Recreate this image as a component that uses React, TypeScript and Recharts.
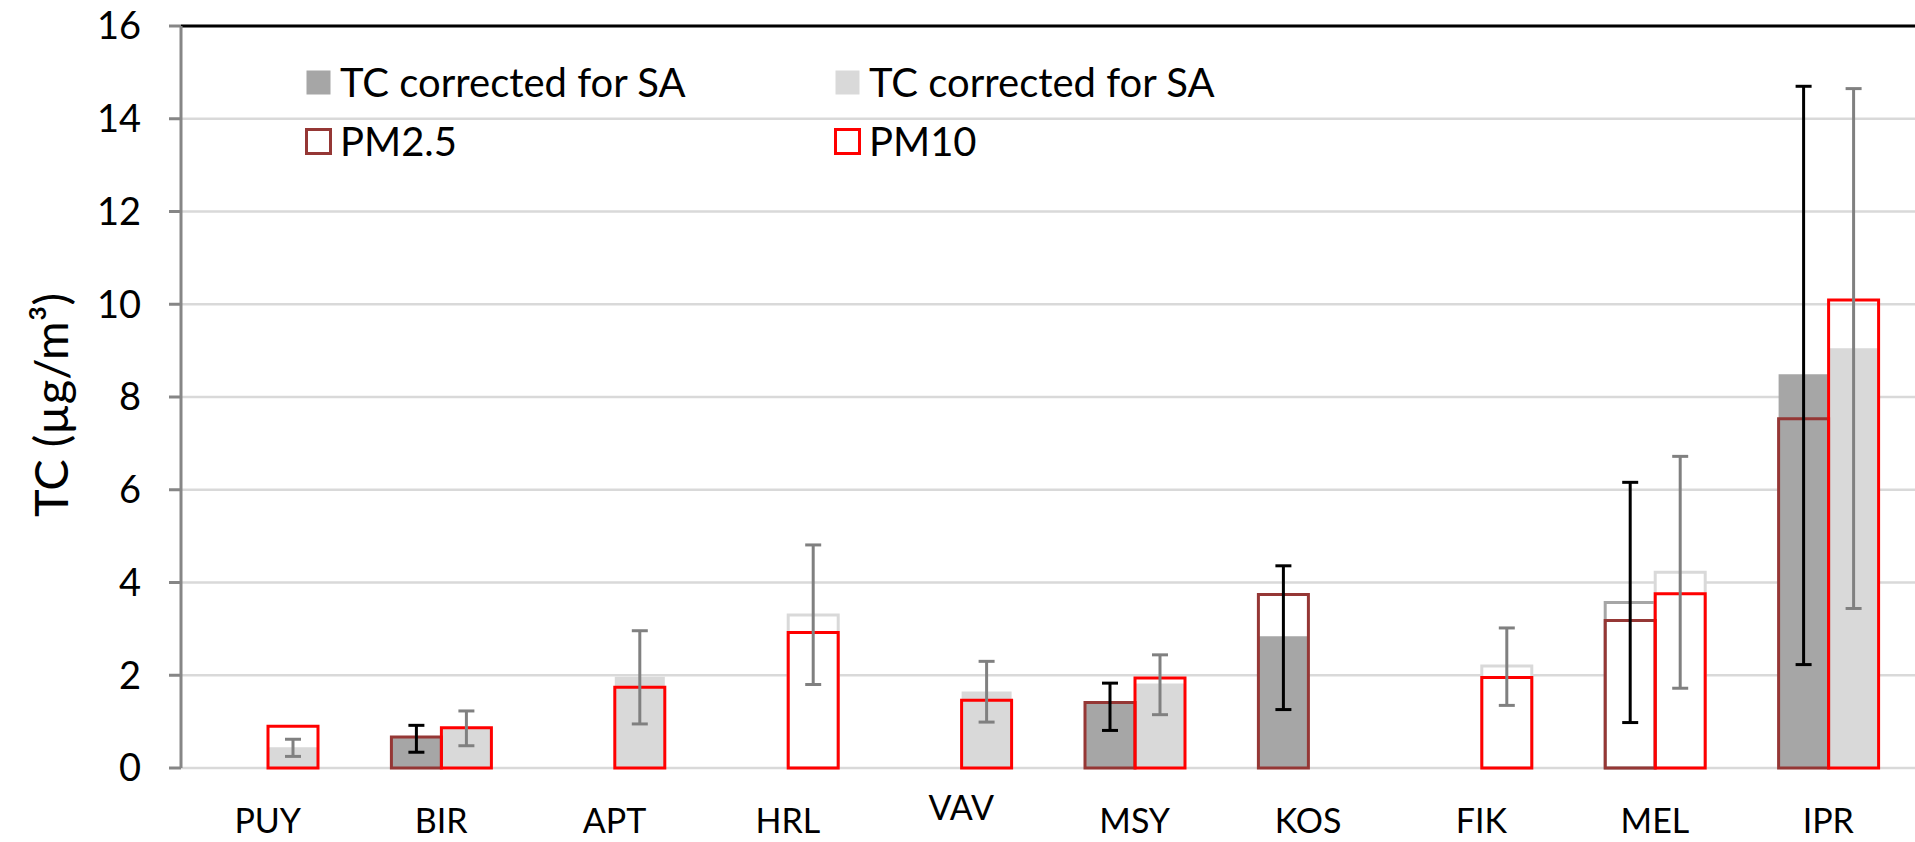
import React from "react";
import { BarChart, Bar, XAxis, YAxis, CartesianGrid, ErrorBar, ReferenceLine, Cell } from "recharts";

const sites = ["PUY", "BIR", "APT", "HRL", "VAV", "MSY", "KOS", "FIK", "MEL", "IPR"];
const tcPM25: (number | null)[] = [null, 0.65, null, null, null, 1.38, 2.84, null, 3.57, 8.49];
const tcPM10: (number | null)[] = [0.45, 0.85, 1.97, 3.3, 1.65, 1.82, null, 2.2, 4.22, 9.05];
const pm25: (number | null)[] = [null, 0.67, null, null, null, 1.41, 3.74, null, 3.18, 7.53];
const pm10: (number | null)[] = [0.9, 0.87, 1.74, 2.92, 1.46, 1.94, null, 1.95, 3.76, 10.09];
const err25Low: (number | null)[] = [null, 0.34, null, null, null, 0.81, 1.26, null, 0.98, 2.23];
const err25High: (number | null)[] = [null, 0.92, null, null, null, 1.83, 4.36, null, 6.16, 14.7];
const err10Low: (number | null)[] = [0.25, 0.48, 0.95, 1.8, 0.99, 1.15, null, 1.35, 1.72, 3.44];
const err10High: (number | null)[] = [0.62, 1.23, 2.96, 4.81, 2.3, 2.44, null, 3.02, 6.72, 14.65];
const hollowSites = ["HRL", "FIK", "MEL"];
const yTicks = [0, 2, 4, 6, 8, 10, 12, 14, 16];
const boundaryTicks = [0, 1, 2, 3, 4, 5, 6, 7, 8, 9, 10];

const DARK = "#a6a6a6";
const LIGHT = "#d9d9d9";
const DARKRED = "#953735";
const RED = "#ff0000";
const AXIS = "#868686";
const FONT = "Lato, 'Noto Sans', sans-serif";
const FS = 40;

const legendItems = [
  { label: "TC corrected for SA", fill: DARK, stroke: "none" },
  { label: "TC corrected for SA", fill: LIGHT, stroke: "none" },
  { label: "PM2.5", fill: "#fff", stroke: DARKRED },
  { label: "PM10", fill: "#fff", stroke: RED },
];

const span = (v: number | null, lo: number | null, hi: number | null) =>
  v == null || lo == null || hi == null ? null : [v - lo, hi - v];

const data = sites.map((site, i) => ({
  site,
  tc25: tcPM25[i],
  tc10: tcPM10[i],
  pm25: pm25[i],
  pm10: pm10[i],
  e25: span(tcPM25[i], err25Low[i], err25High[i]),
  e10: span(tcPM10[i], err10Low[i], err10High[i]),
}));

const CatTick = (props: any) => {
  const { x, y, payload } = props;
  const lift = payload.value === "VAV" ? 13 : 0;
  return (
    <text x={x} y={y + 65 - lift} textAnchor="middle" fontFamily={FONT} fontSize={34} fill="#000">
      {payload.value}
    </text>
  );
};

const YLabel = (props: any) => {
  const vb = props.viewBox || { x: 0, y: 26, width: 181, height: 742 };
  const cx = vb.x + 50;
  const cy = vb.y + vb.height / 2 + 8;
  return (
    <text
      x={cx}
      y={cy}
      transform={`rotate(-90, ${cx}, ${cy})`}
      textAnchor="middle"
      dominantBaseline="central"
      fontFamily={FONT}
      fontSize={47}
      fill="#000"
    >
      TC (µg/m³)
    </text>
  );
};

export default function App() {
  return (
    <div style={{ position: "absolute", left: 0, top: 0, width: 1915, height: 842, background: "#fff", overflow: "hidden" }}>
      <BarChart
        width={1915}
        height={842}
        data={data}
        margin={{ top: 26, right: 0, bottom: 0, left: 0 }}
        barGap={0}
        barSize={50}
      >
        <CartesianGrid xAxisId="cat" vertical={false} stroke={LIGHT} strokeWidth={2.5} />
        <XAxis
          xAxisId="num"
          type="number"
          domain={[0, 10]}
          ticks={boundaryTicks}
          allowDataOverflow
          interval={0}
          height={0}
          axisLine={{ stroke: AXIS, strokeWidth: 3 }}
          tickLine={{ stroke: AXIS, strokeWidth: 3 }}
          tickSize={11}
          tick={() => <g />}
        />
        <XAxis
          xAxisId="cat"
          dataKey="site"
          height={74}
          axisLine={false}
          tickLine={false}
          tickSize={0}
          tickMargin={0}
          interval={0}
          tick={<CatTick />}
        />
        <XAxis xAxisId="out" dataKey="site" hide />
        <XAxis xAxisId="err" dataKey="site" hide />
        <YAxis
          domain={[0, 16]}
          ticks={yTicks}
          interval={0}
          width={181}
          axisLine={{ stroke: AXIS, strokeWidth: 3 }}
          tickLine={{ stroke: AXIS, strokeWidth: 3 }}
          tickSize={12}
          tickMargin={28}
          tick={{ fill: "#000", fontSize: 38, fontFamily: FONT }}
          label={<YLabel />}
        />
        <ReferenceLine xAxisId="cat" y={16} stroke="#000" strokeWidth={3} />
        <Bar xAxisId="cat" dataKey="tc25" fill={DARK} isAnimationActive={false}>
          {data.map((d) => {
            const h = hollowSites.includes(d.site);
            return <Cell key={d.site} fill={h ? "#fff" : DARK} stroke={h ? DARK : "none"} strokeWidth={3} />;
          })}
        </Bar>
        <Bar xAxisId="cat" dataKey="tc10" fill={LIGHT} isAnimationActive={false}>
          {data.map((d) => {
            const h = hollowSites.includes(d.site);
            return <Cell key={d.site} fill={h ? "#fff" : LIGHT} stroke={h ? LIGHT : "none"} strokeWidth={3} />;
          })}
        </Bar>
        <Bar xAxisId="out" dataKey="pm25" fill="none" stroke={DARKRED} strokeWidth={3} isAnimationActive={false} />
        <Bar xAxisId="out" dataKey="pm10" fill="none" stroke={RED} strokeWidth={3} isAnimationActive={false} />
        <Bar xAxisId="err" dataKey="tc25" fill="none" isAnimationActive={false}>
          <ErrorBar dataKey="e25" stroke="#000" strokeWidth={3} width={8} isAnimationActive={false} />
        </Bar>
        <Bar xAxisId="err" dataKey="tc10" fill="none" isAnimationActive={false}>
          <ErrorBar dataKey="e10" stroke="#808080" strokeWidth={3} width={8} isAnimationActive={false} />
        </Bar>
      </BarChart>
      {legendItems.map((it, i) => {
        const col = i % 2;
        const row = Math.floor(i / 2);
        return (
          <div
            key={i}
            style={{
              position: "absolute",
              left: col === 0 ? 305 : 834,
              top: row === 0 ? 58 : 117,
              height: 48,
              display: "flex",
              alignItems: "center",
              fontFamily: FONT,
              fontSize: FS,
              color: "#000",
              whiteSpace: "nowrap",
            }}
          >
            <svg width={27} height={27} style={{ marginRight: 8 }}>
              <rect
                x={1.5}
                y={1.5}
                width={24}
                height={24}
                fill={it.fill}
                stroke={it.stroke}
                strokeWidth={it.stroke === "none" ? 0 : 3}
              />
            </svg>
            <span>{it.label}</span>
          </div>
        );
      })}
    </div>
  );
}
